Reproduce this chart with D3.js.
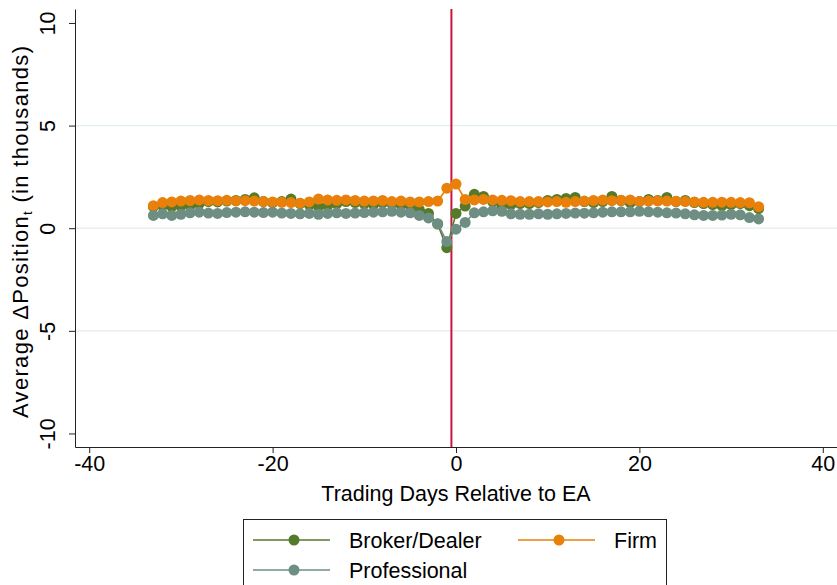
<!DOCTYPE html>
<html><head><meta charset="utf-8">
<script src="https://cdn.jsdelivr.net/npm/d3@7"></script>
<style>body{margin:0;background:#fff}svg{display:block;font-family:"Liberation Sans",Arial,sans-serif}</style>
</head><body><svg id="c" width="837" height="585"></svg>
<script>
const days = d3.range(-33, 34);
const broker = [1.05,1.10,1.05,1.08,1.10,1.20,1.30,1.28,1.32,1.35,1.40,1.48,1.30,1.25,1.30,1.42,1.20,1.15,1.05,1.10,1.20,1.30,1.25,1.20,1.15,1.25,1.20,1.15,1.10,0.90,0.72,0.20,-0.95,0.72,1.08,1.65,1.55,1.30,1.10,1.15,1.20,1.20,1.25,1.35,1.40,1.45,1.50,1.30,1.25,1.30,1.55,1.35,1.25,1.30,1.40,1.35,1.50,1.30,1.35,1.25,1.20,1.15,1.10,1.15,1.20,1.10,0.95];
const firm = [1.10,1.25,1.28,1.32,1.35,1.38,1.35,1.34,1.36,1.33,1.34,1.32,1.30,1.28,1.26,1.25,1.22,1.28,1.42,1.38,1.36,1.38,1.35,1.32,1.33,1.35,1.30,1.32,1.28,1.28,1.30,1.32,1.95,2.15,1.40,1.38,1.40,1.38,1.36,1.34,1.30,1.30,1.30,1.28,1.30,1.26,1.30,1.32,1.35,1.37,1.34,1.36,1.38,1.30,1.32,1.33,1.32,1.31,1.30,1.28,1.26,1.26,1.27,1.26,1.25,1.24,1.05];
const professional = [0.62,0.70,0.62,0.68,0.75,0.78,0.74,0.72,0.76,0.78,0.80,0.78,0.76,0.78,0.74,0.72,0.70,0.72,0.68,0.72,0.75,0.72,0.74,0.76,0.78,0.80,0.82,0.78,0.75,0.62,0.50,0.22,-0.65,-0.05,0.28,0.75,0.80,0.85,0.82,0.70,0.68,0.68,0.70,0.68,0.70,0.72,0.74,0.73,0.75,0.78,0.80,0.80,0.80,0.82,0.80,0.78,0.75,0.74,0.70,0.65,0.62,0.62,0.64,0.68,0.65,0.52,0.45];
const xTicks = [-40,-20,0,20,40];
const yTicks = [-10,-5,0,5,10];
const gridTicks = [-5,0,5];
const eventLine = -0.5;
const seriesNames = ["Broker/Dealer","Firm","Professional"];
const seriesColors = ["#557a2a","#e8800a","#6e8e84"];
const seriesData = [broker, firm, professional];

const svg = d3.select("#c");
const x = d3.scaleLinear().domain([-41.55, 41.55]).range([75, 837]);
const y = d3.scaleLinear().domain([-10.66, 10.68]).range([447, 9]);
const FONT = "Liberation Sans, Arial, sans-serif";
const fs = 21.5;

// gridlines
svg.append("g").selectAll("line").data(gridTicks).join("line")
  .attr("x1", 75).attr("x2", 837).attr("y1", d=>y(d)).attr("y2", d=>y(d))
  .attr("stroke", "#e4edef").attr("stroke-width", 1.2);

// axes
const xAxis = svg.append("g").attr("transform","translate(0,447)")
  .call(d3.axisBottom(x).tickValues(xTicks).tickSize(6).tickPadding(3).tickFormat(d3.format("d")).tickSizeOuter(0));
xAxis.select(".domain").attr("stroke","#222");
xAxis.selectAll(".tick line").attr("stroke","#222");
xAxis.selectAll(".tick text").text(d => d < 0 ? "-" + Math.abs(d) : d)
  .attr("font-size", fs).attr("fill","#000").attr("font-family", FONT);

const yAxis = svg.append("g").attr("transform","translate(75,0)")
  .call(d3.axisLeft(y).tickValues(yTicks).tickSize(6).tickFormat(d3.format("d")).tickSizeOuter(0));
yAxis.select(".domain").attr("stroke","#222");
yAxis.selectAll(".tick line").attr("stroke","#222");
yAxis.selectAll(".tick text")
  .text(d => d < 0 ? "-" + Math.abs(d) : d)
  .attr("font-size", fs).attr("fill","#000").attr("font-family", FONT)
  .attr("x", null).attr("dy", null)
  .attr("text-anchor","middle")
  .attr("transform","translate(-20,0) rotate(-90)");

// event line
svg.append("line").attr("x1", x(eventLine)).attr("x2", x(eventLine))
  .attr("y1", 9).attr("y2", 447).attr("stroke", "#c8163e").attr("stroke-width", 2);

// series
const line = d3.line().x((d,i)=>x(days[i])).y(d=>y(d));
seriesData.forEach((vals, k) => {
  const g = svg.append("g");
  g.append("path").datum(vals).attr("d", line).attr("fill","none")
    .attr("stroke", seriesColors[k]).attr("stroke-width", 1.6);
  g.selectAll("circle").data(vals).join("circle")
    .attr("cx", (d,i)=>x(days[i])).attr("cy", d=>y(d)).attr("r", 5.5)
    .attr("fill", seriesColors[k]);
});

// axis titles
svg.append("text").attr("x", 456).attr("y", 501).attr("text-anchor","middle")
  .attr("font-size", fs).attr("font-family", FONT).text("Trading Days Relative to EA");
const yt = svg.append("text").attr("text-anchor","middle").attr("font-size", 22).attr("font-family", FONT)
  .attr("textLength", 372).attr("lengthAdjust", "spacing")
  .attr("transform","translate(28,232) rotate(-90)");
yt.append("tspan").text("Average \u0394Position");
yt.append("tspan").attr("font-size", 13).attr("dy", 4).text("t");
yt.append("tspan").attr("dy", -4).text(" (in thousands)");

// legend
svg.append("rect").attr("x", 243.5).attr("y", 519.5).attr("width", 423).attr("height", 80)
  .attr("fill","#fff").attr("stroke","#222").attr("stroke-width",1);
const legPos = [[253, 540], [518, 540], [253, 570]];
seriesNames.forEach((name, k) => {
  const [lx, ly] = legPos[k];
  svg.append("line").attr("x1", lx).attr("x2", lx+77).attr("y1", ly).attr("y2", ly)
    .attr("stroke", seriesColors[k]).attr("stroke-width", 1.6);
  svg.append("circle").attr("cx", lx+41).attr("cy", ly).attr("r", 5.5).attr("fill", seriesColors[k]);
  svg.append("text").attr("x", lx+96).attr("y", ly+8).attr("font-size", fs).attr("font-family", FONT).text(name);
});
</script></body></html>
